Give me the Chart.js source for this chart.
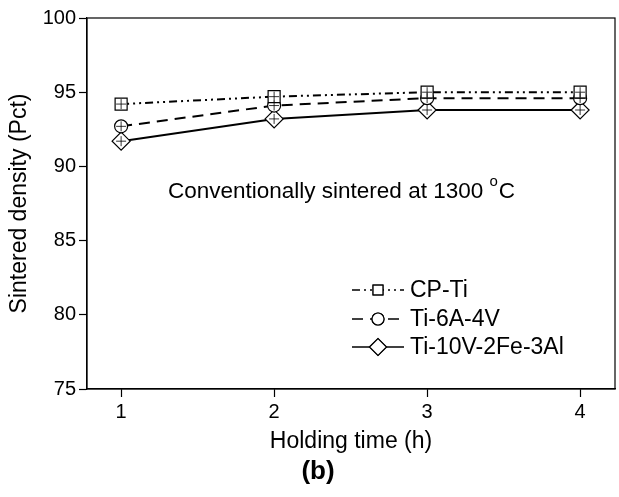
<!DOCTYPE html>
<html>
<head>
<meta charset="utf-8">
<script src="https://cdn.jsdelivr.net/npm/chart.js@4.4.0/dist/chart.umd.min.js"></script>
<style>
  html, body { margin: 0; padding: 0; background: #fff; }
  #wrap { width: 619px; height: 497px; }
</style>
</head>
<body>
<div id="wrap"><canvas id="myChart" width="619" height="497"></canvas></div>
<script>
//data
var hours = [1, 2, 3, 4];
var cpTi = [94.2, 94.7, 95.0, 95.0];
var ti64 = [92.7, 94.1, 94.6, 94.6];
var ti1023 = [91.7, 93.2, 93.8, 93.8];
var yTicks = [75, 80, 85, 90, 95, 100];

var seriesNames = ["CP-Ti", "Ti-6A-4V", "Ti-10V-2Fe-3Al"];
var seriesDash = [[8, 4, 2, 4, 2, 4], [11, 7], []];
var seriesMarker = ["rect", "circle", "rectRot"];
var markerSize = [8.5, 6.5, 9];

function toPoints(arr) {
  return arr.map(function (v, i) {
    return { x: hours[i], y: v };
  });
}

const FONT = "'Liberation Sans', Arial, sans-serif";

//plot frame, crosshair in markers, note text, legend and (b)
const extras = {
  id: "extras",
  afterDatasetsDraw(chart) {
    const c = chart.ctx;
    const a = chart.chartArea;
    c.save();
    c.strokeStyle = "#000";
    c.lineWidth = 1.2;
    c.setLineDash([]);
    c.strokeRect(a.left, a.top, a.right - a.left, a.bottom - a.top);

    //small cross inside each marker
    c.lineWidth = 0.8;
    chart.data.datasets.forEach(function (ds, di) {
      chart.getDatasetMeta(di).data.forEach(function (pt) {
        c.beginPath();
        c.moveTo(pt.x - 5, pt.y);
        c.lineTo(pt.x + 5, pt.y);
        c.moveTo(pt.x, pt.y - 5);
        c.lineTo(pt.x, pt.y + 5);
        c.stroke();
      });
    });

    c.fillStyle = "#000";
    c.font = "22.5px " + FONT;
    c.textBaseline = "middle";
    c.textAlign = "left";
    var note = "Conventionally sintered at 1300 ";
    var nx = 168, ny = 192;
    c.fillText(note, nx, ny);
    var w = c.measureText(note).width;
    c.font = "15px " + FONT;
    c.fillText("o", nx + w, ny - 10);
    var w2 = c.measureText("o").width;
    c.font = "22.5px " + FONT;
    c.fillText("C", nx + w + w2 + 1, ny);

    //legend
    var ly = [290, 319, 347];
    var legSize = [7, 6, 8.5];
    seriesNames.forEach(function (name, i) {
      c.lineWidth = 1.5;
      c.setLineDash(seriesDash[i]);
      c.beginPath();
      c.moveTo(352, ly[i]);
      c.lineTo(404, ly[i]);
      c.stroke();
      c.setLineDash([]);
      c.fillStyle = "#fff";
      c.lineWidth = 1.2;
      Chart.helpers.drawPoint(c, { pointStyle: seriesMarker[i], radius: legSize[i], borderWidth: 1.2 }, 378, ly[i]);
      c.fill();
      c.stroke();
      c.fillStyle = "#000";
      c.font = "23px " + FONT;
      c.fillText(name, 410, ly[i] + 1);
    });

    c.font = "bold 26px " + FONT;
    c.textAlign = "center";
    c.fillText("(b)", 318, 472);
    c.restore();
  },
};

const ctx = document.getElementById("myChart");
const myChart = new Chart(ctx, {
  type: "line",
  data: {
    datasets: [cpTi, ti64, ti1023].map(function (vals, i) {
      return {
        label: seriesNames[i],
        data: toPoints(vals),
        borderColor: "#000",
        borderWidth: 2,
        borderDash: seriesDash[i],
        pointStyle: seriesMarker[i],
        pointRadius: markerSize[i],
        pointBorderWidth: 1.2,
        pointBackgroundColor: "#fff",
        pointBorderColor: "#000",
        tension: 0,
      };
    }),
  },
  options: {
    responsive: false,
    animation: false,
    layout: { autoPadding: false, padding: { top: 18, right: 4, bottom: 0, left: 0 } },
    plugins: {
      legend: { display: false },
      tooltip: { enabled: false },
    },
    scales: {
      x: {
        type: "linear",
        min: 0.777,
        max: 4.228,
        afterBuildTicks: function (scale) {
          scale.ticks = hours.map(function (h) { return { value: h }; });
        },
        afterFit: function (scale) {
          scale.height = 108;
        },
        grid: { drawOnChartArea: false, tickLength: 8, color: "#000", tickWidth: 1.2 },
        border: { color: "#000", width: 1.2 },
        ticks: { color: "#000", font: { size: 20, family: FONT }, padding: 3 },
        title: {
          display: true,
          text: "Holding time (h)",
          color: "#000",
          font: { size: 23, family: FONT },
          padding: { top: 6, bottom: 42 },
        },
      },
      y: {
        min: 75,
        max: 100,
        afterBuildTicks: function (scale) {
          scale.ticks = yTicks.map(function (v) { return { value: v }; });
        },
        afterFit: function (scale) {
          scale.width = 87;
        },
        grid: { drawOnChartArea: false, tickLength: 8, color: "#000", tickWidth: 1.2 },
        border: { color: "#000", width: 1.2 },
        ticks: { color: "#000", font: { size: 20, family: FONT }, padding: 3 },
        title: {
          display: true,
          text: "Sintered density (Pct)",
          color: "#000",
          font: { size: 23, family: FONT },
          padding: { top: 6, bottom: 4 },
        },
      },
    },
  },
  plugins: [extras],
});
</script>
</body>
</html>
